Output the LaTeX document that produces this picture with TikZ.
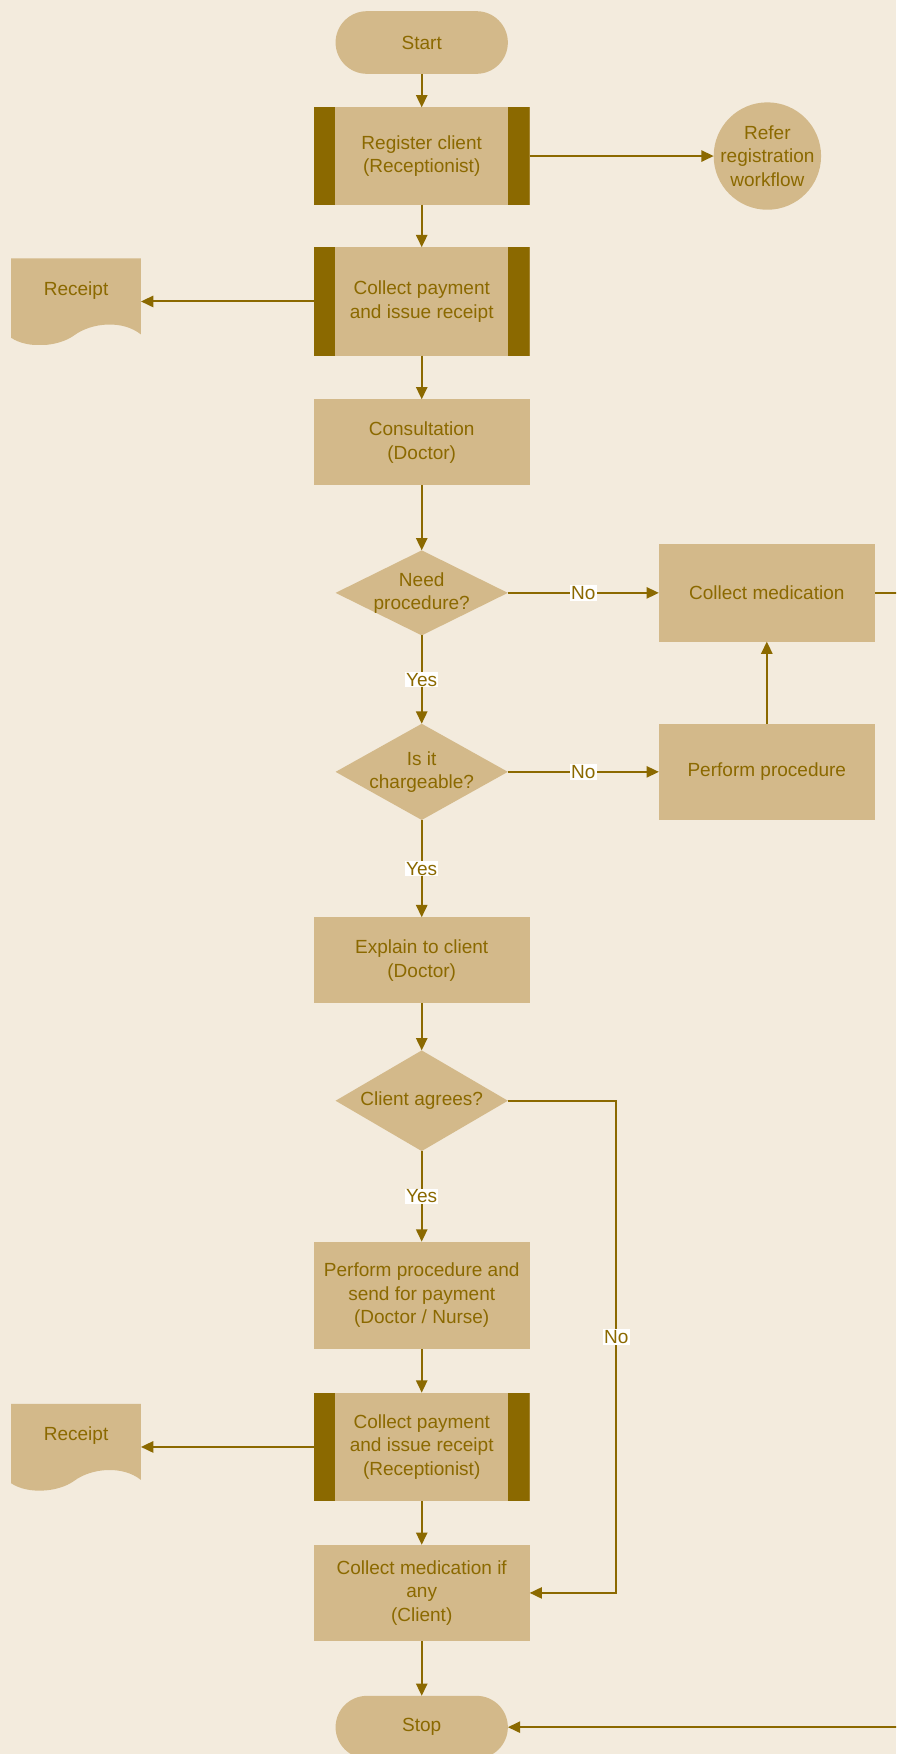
\documentclass[tikz,border=0pt]{standalone}
\usepackage{fontspec}
\setmainfont{Liberation Sans}
\usepackage{tikz}
\usetikzlibrary{arrows.meta,shapes.geometric,positioning}
\usepackage{xcolor}
\definecolor{wfback}{RGB}{243,235,221}
\definecolor{wffill}{RGB}{211,185,138}
\definecolor{wfdark}{RGB}{139,105,0}
\tikzstyle{arrow} = [line width=1.8pt,-{Triangle[length=11pt,width=10pt]},color=wfdark]
\tikzstyle{terminal} = [rectangle, rounded corners=28pt, minimum width=154pt, minimum height=56pt, fill=wffill, align=center]
\tikzstyle{process} = [rectangle, minimum width=193pt, minimum height=77pt, inner sep=0pt, fill=wffill, align=center]
\tikzstyle{predef} = [process, path picture={
  \fill[wfdark] (path picture bounding box.south west) rectangle ([xshift=19pt]path picture bounding box.north west);
  \fill[wfdark] (path picture bounding box.south east) rectangle ([xshift=-19pt]path picture bounding box.north east);}]
\tikzstyle{decision} = [diamond, minimum width=154pt, minimum height=76pt, inner sep=0pt, fill=wffill]
\tikzstyle{refer} = [circle, minimum size=96pt, inner sep=0pt, fill=wffill]
\tikzstyle{yn} = [fill=white, inner sep=1pt]
% document shape, drawn round the node centre
\tikzset{doc/.style={rectangle, minimum width=116pt, minimum height=#1pt, inner sep=0pt,
  path picture={\fill[wffill, yscale=#1/77]
    (-58,-38.5) -- (58,-38.5) -- (58,29.5) .. controls (42,16.5) and (14,18.5) .. (-2,30.5)
    .. controls (-16,40.5) and (-43,42.5) .. (-58,32.5) -- cycle;}}}

\begin{document}
\begin{tikzpicture}[x=1pt, y=-1pt, font=\fontsize{17}{21}\selectfont, text=wfdark,
  every node/.style={outer sep=0pt}, every label/.style={align=center}]
\path[use as bounding box, fill=wfback] (0,0) rectangle (801,1568);
\clip (0,0) rectangle (801,1568);

% Registration and first payment
\node[terminal] (start) at (377,38) {Start};
\node[predef, minimum height=87pt] (reg) at (377,139.5) {Register client\\(Receptionist)};
\node[refer, label={center:Refer\\registration\\workflow}] (ref) at (686,139.5) {};
\node[predef, minimum height=97pt] (pay1) at (377,269.5) {Collect payment\\and issue receipt};
\node[doc=77, label={[yshift=10pt]center:Receipt}] (rcpt1) at (68,269.5) {};
\node[process] (consult) at (377,395.5) {Consultation\\(Doctor)};

% Decisions
\node[decision, label={center:Need\\procedure?}] (need) at (377,530) {};
\node[process, minimum height=87pt] (colmed) at (685.5,530) {Collect medication};
\node[decision, minimum height=86pt, label={center:Is it\\chargeable?}] (charge) at (377,690) {};
\node[process, minimum height=86pt] (perf) at (685.5,690) {Perform procedure};
\node[process] (explain) at (377,858.5) {Explain to client\\(Doctor)};
\node[decision, minimum height=90pt, label={center:Client agrees?}] (agree) at (377,984) {};

% Chargeable procedure
\node[process, minimum height=96pt] (perfpay) at (377,1158) {Perform procedure and\\send for payment\\(Doctor / Nurse)};
\node[predef, minimum height=97pt] (pay2) at (377,1293.5) {Collect payment\\and issue receipt\\(Receptionist)};
\node[doc=87, label={[yshift=10pt]center:Receipt}] (rcpt2) at (68,1293.5) {};
\node[process, minimum height=86pt] (medif) at (377,1424) {Collect medication if\\any\\(Client)};
\node[terminal] (stop) at (377,1544) {Stop};

% Connections
\draw[arrow] (start) -- (reg);
\draw[arrow] (reg.east) -- (ref.west);
\draw[arrow] (reg) -- (pay1);
\draw[arrow] (pay1.west) -- (rcpt1.east);
\draw[arrow] (pay1) -- (consult);
\draw[arrow] (consult) -- (need);
\draw[arrow] (need.east) -- node[yn]{No} (colmed.west);
\draw[arrow] (need) -- node[yn]{Yes} (charge);
\draw[arrow] (charge.east) -- node[yn]{No} (perf.west);
\draw[arrow] (perf) -- (colmed);
\draw[arrow] (charge) -- node[yn]{Yes} (explain);
\draw[arrow] (explain) -- (agree);
\draw[arrow] (agree) -- node[yn]{Yes} (perfpay);
\draw[arrow] (agree.east) -- ++(97,0) |- node[yn, pos=0.24]{No} (medif.east);
\draw[arrow] (perfpay) -- (pay2);
\draw[arrow] (pay2.west) -- (rcpt2.east);
\draw[arrow] (pay2) -- (medif);
\draw[arrow] (medif) -- (stop);
\draw[arrow] (colmed.east) -- ++(40,0) |- (stop.east);
\end{tikzpicture}
\end{document}
